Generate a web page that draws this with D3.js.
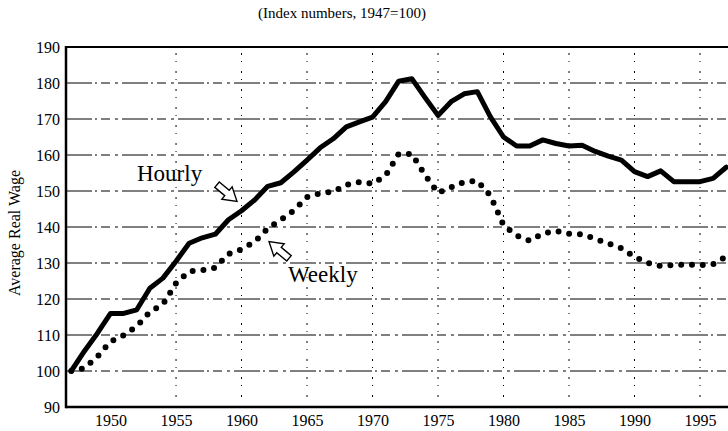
<!DOCTYPE html>
<html>
<head>
<meta charset="utf-8">
<script src="https://cdn.jsdelivr.net/npm/d3@7/dist/d3.min.js"></script>
<style>
  html, body { margin: 0; padding: 0; background: #fff; }
  svg { display: block; }
  text { font-family: "Liberation Serif", "DejaVu Serif", serif; fill: #000; }
</style>
</head>
<body>
<svg id="chart" width="728" height="431"></svg>
<script>
// ---- data ----
const years = d3.range(1947, 1998);
const hourly = [100, 105.5, 110.5, 116, 116, 117, 123, 125.8, 130.5, 135.5,
  137, 138, 142, 144.5, 147.5, 151.3, 152.3, 155.3, 158.6, 162,
  164.5, 167.8, 169.2, 170.5, 174.8, 180.5, 181.2, 176, 171, 174.8,
  177, 177.6, 170.6, 165, 162.5, 162.5, 164.2, 163.2, 162.5, 162.7,
  161, 159.7, 158.6, 155.4, 154, 155.6, 152.6, 152.6, 152.6, 153.5, 156.6];
const weekly = [100, 100.8, 104, 108.2, 109.9, 112.4, 116.4, 118.5, 124.4, 127.7,
  128, 128.7, 132.5, 133.8, 135.9, 139.6, 142, 144.6, 148.3, 149.4,
  149.8, 151.7, 152.5, 152, 154.3, 160.3, 160.3, 154.5, 149.5, 151,
  152.5, 152.8, 148.7, 140.5, 137.6, 136.2, 138.2, 138.9, 138.1, 138,
  136.7, 135.4, 134.1, 131.7, 130, 129.2, 129.4, 129.6, 129.4, 129.7, 131.8];
const yTicks = [90, 100, 110, 120, 130, 140, 150, 160, 170, 180, 190];
const xTicks = [1950, 1955, 1960, 1965, 1970, 1975, 1980, 1985, 1990, 1995];
const gridYears = [1955, 1960, 1965, 1970, 1975, 1980, 1985, 1990, 1995];
const title = "(Index numbers, 1947=100)";
const yTitle = "Average Real Wage";

// ---- scales ----
const svg = d3.select("#chart");
const x = d3.scaleLinear().domain([1946.6, 1998]).range([66, 739.3]);
const y = d3.scaleLinear().domain([90, 190]).range([407, 47]);

// grid lines (horizontal)
svg.append("g").selectAll("line")
  .data(yTicks.filter(v => v > 90 && v < 190))
  .join("line")
  .attr("x1", x.range()[0]).attr("x2", 728)
  .attr("y1", d => y(d)).attr("y2", d => y(d))
  .attr("stroke", "#000").attr("stroke-width", 1)
  .attr("stroke-dasharray", "26,3,2,4,9,5,3,4");

// grid lines (vertical)
svg.append("g").selectAll("line")
  .data(gridYears)
  .join("line")
  .attr("x1", d => x(d)).attr("x2", d => x(d))
  .attr("y1", y(190) + 6).attr("y2", y(90) - 4)
  .attr("stroke", "#000").attr("stroke-width", 1)
  .attr("stroke-dasharray", "2,6,1,9");

// axes
const yAxis = d3.axisLeft(y).tickValues(yTicks).tickSize(0).tickPadding(6);
const gy = svg.append("g").attr("transform", `translate(${x.range()[0]},0)`).call(yAxis);
gy.select(".domain").remove();
gy.selectAll("text").style("font-family", '"Liberation Serif", serif').style("font-size", "16px");

const xAxis = d3.axisBottom(x).tickValues(xTicks).tickFormat(d3.format("d")).tickSize(0).tickPadding(8);
const gx = svg.append("g").attr("transform", `translate(0,${y(90)})`).call(xAxis);
gx.select(".domain").remove();
gx.selectAll("text").style("font-family", '"Liberation Serif", serif').style("font-size", "16px");

// frame lines
svg.append("line").attr("x1", x.range()[0]).attr("x2", x.range()[0])
  .attr("y1", y(190) - 1).attr("y2", y(90) + 1.2)
  .attr("stroke", "#000").attr("stroke-width", 2.5);
svg.append("line").attr("x1", x.range()[0]).attr("x2", 728)
  .attr("y1", y(90)).attr("y2", y(90))
  .attr("stroke", "#000").attr("stroke-width", 2.5);
svg.append("line").attr("x1", x.range()[0]).attr("x2", 728)
  .attr("y1", y(190)).attr("y2", y(190))
  .attr("stroke", "#000").attr("stroke-width", 2);

// series
const line = d3.line().x((d, i) => x(years[i])).y(d => y(d));
svg.append("path").datum(weekly).attr("d", line)
  .attr("fill", "none").attr("stroke", "#000").attr("stroke-width", 6)
  .attr("stroke-linecap", "round").attr("stroke-dasharray", "0,10.8");
svg.append("path").datum(hourly).attr("d", line)
  .attr("fill", "none").attr("stroke", "#000").attr("stroke-width", 5)
  .attr("stroke-linejoin", "round").attr("stroke-linecap", "round");

// title
svg.append("text").attr("x", 342).attr("y", 18).attr("text-anchor", "middle")
  .style("font-size", "15px").text(title);

// y axis title
svg.append("text").attr("transform", `translate(20,${(y(90) + y(190)) / 2 + 6}) rotate(-90)`)
  .attr("text-anchor", "middle").style("font-size", "16px").text(yTitle);

// annotations
function blockArrow(cx, cy, angle) {
  const pts = [[-13, -3.5], [0, -3.5], [0, -8], [13, 0], [0, 8], [0, 3.5], [-13, 3.5]];
  svg.append("polygon")
    .attr("points", pts.map(p => p.join(",")).join(" "))
    .attr("transform", `translate(${cx},${cy}) rotate(${angle})`)
    .attr("fill", "#fff").attr("stroke", "#000").attr("stroke-width", 1.4)
    .attr("stroke-linejoin", "miter");
}
svg.append("text").attr("x", 137).attr("y", 181).style("font-size", "23px").text("Hourly");
blockArrow(227, 193, 40);
svg.append("text").attr("x", 288).attr("y", 282).style("font-size", "23px").text("Weekly");
blockArrow(279, 250, 220);
</script>
</body>
</html>
